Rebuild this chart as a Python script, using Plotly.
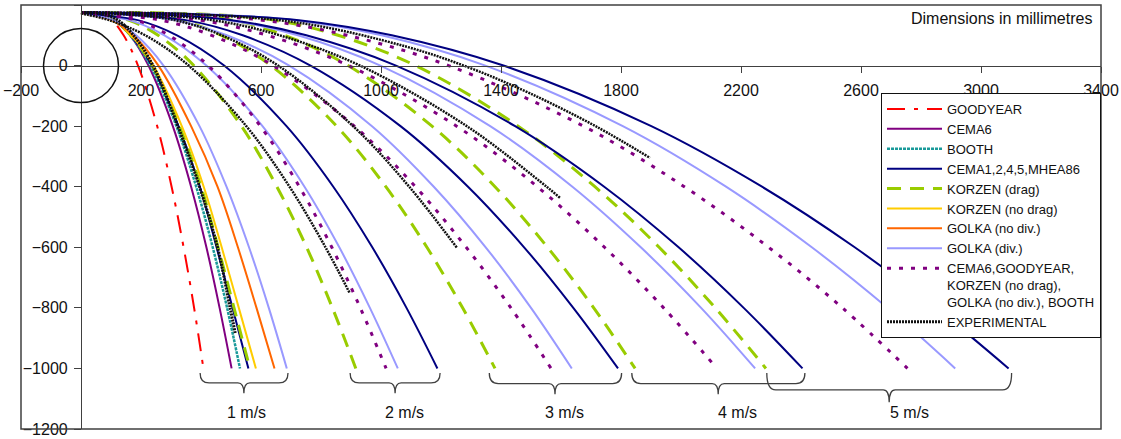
import plotly.graph_objects as go

# ---------------- data (mm) ----------------
# common y-levels used by the model curves (after the start point)
Y_START = 175
Y_LEV = [170, 150, 100, 0, -200, -400, -600, -800, -1000]

# 1 m/s  (x at the y-levels above)
GOODYEAR_1 = [56, 102, 142, 190, 254, 302, 342, 377, 408]
CEMA6_1 = [54, 113, 164, 225, 306, 367, 418, 462, 502]
BOOTH_1 = [46, 109, 164, 231, 318, 384, 439, 487, 530]
CEMA1_1 = [38, 106, 165, 236, 325, 396, 452, 505, 558]
KORZEN_D_1 = [38, 107, 166, 238, 328, 400, 457, 510, 563]
KORZEN_ND_1 = [32, 104, 167, 241, 336, 409, 469, 526, 583]
GOLKA_ND_1 = [21, 103, 174, 258, 367, 455, 523, 585, 645]
GOLKA_D_1 = [22, 109, 184, 275, 395, 485, 560, 626, 686]

# 2 m/s
CEMA1_2 = [39, 189, 320, 477, 685, 841, 971, 1085, 1188]
GOLKA_D_2 = [26, 161, 278, 418, 605, 745, 861, 963, 1056]
COMBINED_2 = [59, 184, 293, 424, 598, 728, 836, 931, 1017]
KORZEN_D_2 = [44, 158, 257, 376, 535, 653, 752, 838, 916]

# 3 m/s
CEMA1_3 = [134, 350, 539, 765, 1065, 1290, 1477, 1641, 1790]
GOLKA_D_3 = [114, 313, 486, 694, 970, 1176, 1349, 1500, 1636]
COMBINED_3 = [69, 265, 435, 640, 911, 1115, 1284, 1433, 1567]
KORZEN_D_3 = [173, 331, 468, 633, 852, 1016, 1153, 1272, 1380]

# 4 m/s
CEMA1_4 = [216, 502, 751, 1050, 1447, 1744, 1992, 2209, 2405]
GOLKA_D_4 = [229, 493, 723, 998, 1364, 1638, 1866, 2067, 2247]
COMBINED_4 = [136, 395, 621, 892, 1252, 1521, 1745, 1942, 2120]
KORZEN_D_4 = [301, 503, 679, 890, 1170, 1380, 1555, 1709, 1847]

# 5 m/s
CEMA1_5 = [370, 726, 1036, 1408, 1901, 2270, 2579, 2849, 3092]
GOLKA_D_5 = [383, 714, 1002, 1348, 1806, 2150, 2436, 2688, 2914]
COMBINED_5 = [280, 604, 887, 1225, 1675, 2011, 2292, 2538, 2755]
KORZEN_D_5 = [395, 642, 857, 1115, 1457, 1713, 1927, 2114, 2283]

# experimental curves (own x / y lists)
EXP_1_X = [0, 60, 120, 175, 240, 323, 395, 455, 497, 514]
EXP_1_Y = [175, 172, 152, 100, 0, -200, -400, -600, -800, -883]
EXP_2_X = [0, 94, 214, 359, 551, 695, 815, 896]
EXP_2_Y = [172, 150, 100, 0, -200, -400, -600, -752]
EXP_3_X = [0, 132, 312, 469, 657, 907, 1094, 1254]
EXP_3_Y = [175, 170, 150, 100, 0, -200, -400, -603]
EXP_4_X = [0, 182, 439, 662, 930, 1286, 1552, 1597]
EXP_4_Y = [175, 170, 150, 100, 0, -200, -400, -437]
EXP_5_X = [0, 347, 730, 1086, 1297, 1497, 1719, 1897]
EXP_5_Y = [175, 170, 141, 62, -8, -92, -202, -305]

SPEED_LABELS = ["1 m/s", "2 m/s", "3 m/s", "4 m/s", "5 m/s"]
X_TICK0, X_DTICK = -200, 400
Y_DTICK = 200

# ---------------- styles ----------------
FONT = "Liberation Sans, Arial, sans-serif"
STYLE = {
    "GOODYEAR": dict(color="#FF0000", width=2, dash="18px,9px,4px,9px"),
    "CEMA6": dict(color="#800080", width=2),
    "BOOTH": dict(color="#1A9A9A", width=2.5, dash="3px,1px"),
    "CEMA1,2,4,5,MHEA86": dict(color="#000080", width=2),
    "KORZEN (drag)": dict(color="#99CC00", width=3, dash="14px,9px"),
    "KORZEN (no drag)": dict(color="#FFCC00", width=2),
    "GOLKA (no div.)": dict(color="#FF6600", width=2),
    "GOLKA (div.)": dict(color="#9999FF", width=2),
    "COMB": dict(color="#800080", width=3, dash="4px,8px"),
    "EXPERIMENTAL": dict(color="#111111", width=2.5, dash="2px,1px"),
}
COMB_NAME = "CEMA6,GOODYEAR,<br>KORZEN (no drag),<br>GOLKA (no div.), BOOTH"

fig = go.Figure()


def model(xs, key, name=None, rank=None):
    fig.add_trace(go.Scatter(
        x=[0] + xs, y=[Y_START] + Y_LEV, mode="lines",
        line=dict(shape="spline", smoothing=1.0, **STYLE[key]),
        name=name or key, showlegend=rank is not None,
        legendrank=rank if rank is not None else 1000, hoverinfo="skip"))


def exper(xs, ys, rank=None, width=None):
    st = dict(STYLE["EXPERIMENTAL"])
    if width:
        st["width"] = width
    fig.add_trace(go.Scatter(
        x=xs, y=ys, mode="lines",
        line=dict(shape="spline", smoothing=1.0, **st),
        name="EXPERIMENTAL", showlegend=rank is not None,
        legendrank=rank if rank is not None else 1000, hoverinfo="skip"))


# 1 m/s models (legend entries)
model(GOODYEAR_1, "GOODYEAR", rank=1)
model(CEMA6_1, "CEMA6", rank=2)
model(BOOTH_1, "BOOTH", rank=3)
model(CEMA1_1, "CEMA1,2,4,5,MHEA86", rank=4)
model(KORZEN_D_1, "KORZEN (drag)", rank=5)
model(KORZEN_ND_1, "KORZEN (no drag)", rank=6)
model(GOLKA_ND_1, "GOLKA (no div.)", rank=7)
model(GOLKA_D_1, "GOLKA (div.)", rank=8)

# higher speeds
for xs in (KORZEN_D_2, KORZEN_D_3, KORZEN_D_4, KORZEN_D_5):
    model(xs, "KORZEN (drag)")
for xs in (GOLKA_D_2, GOLKA_D_3, GOLKA_D_4, GOLKA_D_5):
    model(xs, "GOLKA (div.)")
for xs in (CEMA1_2, CEMA1_3, CEMA1_4, CEMA1_5):
    model(xs, "CEMA1,2,4,5,MHEA86")
model(COMBINED_2, "COMB", name=COMB_NAME, rank=9)
for xs in (COMBINED_3, COMBINED_4, COMBINED_5):
    model(xs, "COMB", name=COMB_NAME)

# experimental on top
exper(EXP_1_X, EXP_1_Y, rank=10, width=3)
for xs, ys in ((EXP_2_X, EXP_2_Y), (EXP_3_X, EXP_3_Y), (EXP_4_X, EXP_4_Y), (EXP_5_X, EXP_5_Y)):
    exper(xs, ys)

# ---------------- decorations ----------------
shapes = [
    dict(type="rect", xref="paper", yref="paper", x0=0, x1=1, y0=0, y1=1,
         line=dict(color="#404040", width=1.5), layer="above"),
    dict(type="circle", xref="x", yref="y", x0=-125, x1=125, y0=-122, y1=122,
         line=dict(color="#111111", width=1.5)),
]

# braces: (left, right, tip, y_top, y_mid, y_tip)
BRACES = [
    (397, 690, 543, -1015, -1048, -1082),
    (897, 1197, 1047, -1015, -1048, -1082),
    (1361, 1802, 1580, -1015, -1050, -1085),
    (1836, 2413, 2124, -1015, -1050, -1085),
    (2286, 3102, 2694, -1015, -1071, -1112),
]
LABEL_X = [553, 1077, 1613, 2187, 2760]
re, rm = 30, 20
for (xl, xr, xt, yt, ym, ytip) in BRACES:
    path = (f"M {xl},{yt} Q {xl},{ym} {xl+re},{ym} L {xt-rm},{ym} "
            f"Q {xt},{ym} {xt},{ytip} Q {xt},{ym} {xt+rm},{ym} "
            f"L {xr-re},{ym} Q {xr},{ym} {xr},{yt}")
    shapes.append(dict(type="path", xref="x", yref="y", path=path,
                       line=dict(color="#404040", width=1.3)))

annotations = [
    dict(text=lab, x=lx, y=-1147, xref="x", yref="y", showarrow=False,
         font=dict(family=FONT, size=16, color="#111111"))
    for lab, lx in zip(SPEED_LABELS, LABEL_X)
]
annotations.append(dict(text="Dimensions in millimetres", xref="paper", yref="paper",
                        x=0.9935, y=0.967, xanchor="right", yanchor="middle",
                        showarrow=False, font=dict(family=FONT, size=16, color="#111111")))

fig.update_layout(
    template="none",
    width=1121, height=439,
    margin=dict(l=21, r=20, t=5, b=10, autoexpand=False),
    paper_bgcolor="white", plot_bgcolor="white",
    font=dict(family=FONT, size=16, color="#111111"),
    shapes=shapes, annotations=annotations,
    showlegend=True,
    legend=dict(x=1, xanchor="right", y=(429 - 93) / 424, yanchor="top",
                bgcolor="white", bordercolor="#111111", borderwidth=1,
                font=dict(family=FONT, size=13, color="#111111"),
                itemwidth=55, tracegroupgap=0, valign="top"),
    xaxis=dict(range=[-200, 3400], tick0=X_TICK0, dtick=X_DTICK,
               anchor="free", position=1200 / 1400, automargin=False,
               showline=True, linecolor="#404040", linewidth=1.2,
               ticks="outside", ticklen=6, tickcolor="#404040",
               ticklabelstandoff=4,
               showgrid=False, zeroline=False,
               tickfont=dict(family=FONT, size=16, color="#111111")),
    yaxis=dict(range=[-1200, 200], dtick=Y_DTICK,
               anchor="free", position=200 / 3600, automargin=False,
               showline=True, linecolor="#404040", linewidth=1.2,
               ticks="outside", ticklen=7, tickcolor="#404040",
               ticklabelstandoff=3,
               showgrid=False, zeroline=False,
               tickfont=dict(family=FONT, size=16, color="#111111")),
)

fig.write_html(
    "out.html",
    config={"displayModeBar": False},
    post_script=("document.body.style.margin='0';"
                 "document.body.style.padding='0';"
                 "document.documentElement.style.margin='0';"),
)
